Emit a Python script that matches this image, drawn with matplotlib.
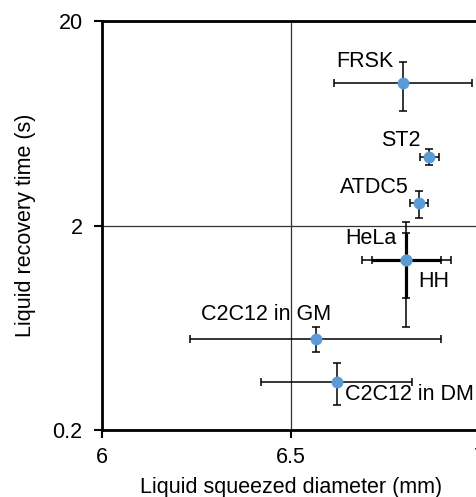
import matplotlib
matplotlib.use("Agg")
import matplotlib.pyplot as plt
from matplotlib.ticker import FixedLocator, NullLocator

plt.rcParams['font.family'] = ['Liberation Sans', 'DejaVu Sans']

names = ["FRSK", "ST2", "ATDC5", "HeLa", "HH", "C2C12 in GM", "C2C12 in DM"]
diameter = [6.797, 6.866, 6.839, 6.805, 6.805, 6.565, 6.621]
diameter_err = [0.182, 0.026, 0.023, 0.118, 0.091, 0.331, 0.200]
recovery = [9.92, 4.34, 2.57, 1.36, 1.36, 0.56, 0.344]
recovery_err = [2.7, 0.37, 0.39, 0.72, 0.48, 0.08, 0.08]

x_ticks = [6, 6.5, 7]
x_ticklabels = ["6", "6.5", "7"]
y_ticks = [0.2, 2, 20]
y_ticklabels = ["0.2", "2", "20"]

# label placement (pixel offsets, alignment)
label_style = {
    "FRSK": (-10, 22, "right", "center"),
    "ST2": (-9, 16, "right", "center"),
    "ATDC5": (-10, 16, "right", "center"),
    "HeLa": (-10, 21, "right", "center"),
    "HH": (12, -22, "left", "center"),
    "C2C12 in GM": (16, 24, "right", "center"),
    "C2C12 in DM": (8, -13, "left", "center"),
}
bar_width = {"HH": 2.3}
FS = 15.5

fig = plt.figure(figsize=(4.77, 4.97), dpi=100)
ax = fig.add_axes([102/477, 67/497, 378/477, 409/497])
ax.set_yscale("log")
ax.set_xlim(6, 7)
ax.set_ylim(0.2, 20)

blue = "#5B9BD5"
for n, x, xe, y, ye in zip(names, diameter, diameter_err, recovery, recovery_err):
    lw = bar_width.get(n, 1.1)
    ax.errorbar(x, y, xerr=xe, yerr=ye, fmt="none", ecolor="black",
                elinewidth=lw, capsize=3, capthick=1.1, zorder=3)
for n, x, y in zip(names, diameter, recovery):
    ax.plot(x, y, "o", color=blue, markersize=8.5, zorder=5, markeredgewidth=0)
    dx, dy, ha, va = label_style[n]
    ax.annotate(n, (x, y), xytext=(dx, dy), textcoords="offset pixels",
                ha=ha, va=va, fontsize=FS, color="black", zorder=6)

ax.xaxis.set_major_locator(FixedLocator(x_ticks))
ax.set_xticklabels(x_ticklabels)
ax.yaxis.set_major_locator(FixedLocator(y_ticks))
ax.set_yticklabels(y_ticklabels)
ax.yaxis.set_minor_locator(NullLocator())
ax.grid(True, which="major", color="#333333", linewidth=0.9)
ax.set_axisbelow(True)

for side in ["left", "bottom", "top", "right"]:
    ax.spines[side].set_linewidth(2)
    ax.spines[side].set_color("black")
ax.tick_params(axis="both", direction="out", length=6, width=1.5,
               labelsize=FS, top=False, right=False)
ax.tick_params(axis="y", pad=8)
ax.tick_params(axis="x", pad=6)

ax.set_xlabel("Liquid squeezed diameter (mm)", fontsize=FS, labelpad=7)
ax.set_ylabel("Liquid recovery time (s)", fontsize=FS, labelpad=12)

fig.savefig("out.png", dpi=100)
